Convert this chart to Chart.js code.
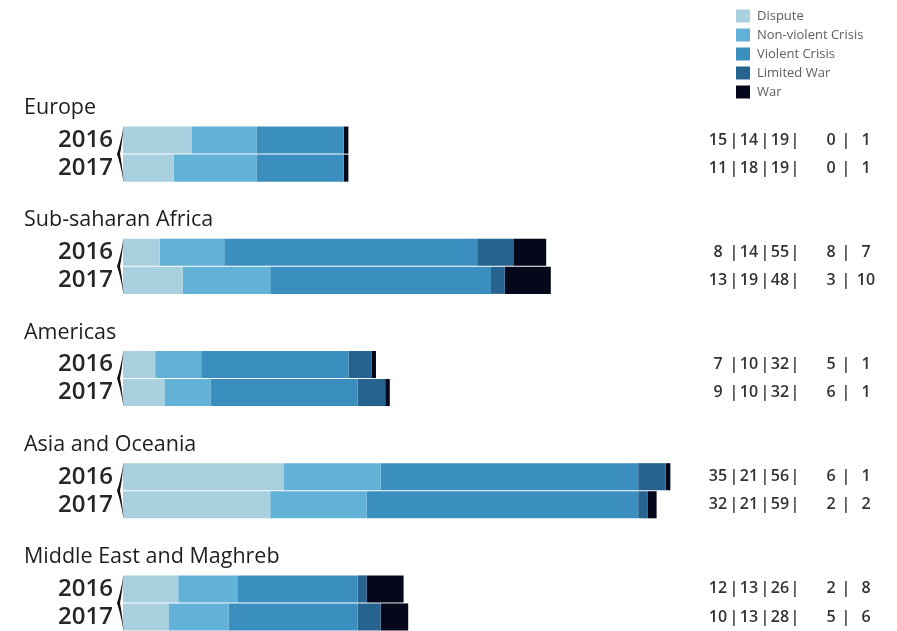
<!DOCTYPE html>
<html>
<head>
<meta charset="utf-8">
<script src="https://cdn.jsdelivr.net/npm/chart.js@4"></script>
<style>
  html, body { margin: 0; padding: 0; background: #fff; }
  #wrap { width: 897px; height: 631px; position: relative; }
</style>
</head>
<body>
<div id="wrap"><canvas id="c"></canvas></div>
<script>
// ---- data ----
const regions = ['Europe', 'Sub-saharan Africa', 'Americas', 'Asia and Oceania', 'Middle East and Maghreb'];
const years = ['2016', '2017'];
const intensityLabels = ['Dispute', 'Non-violent Crisis', 'Violent Crisis', 'Limited War', 'War'];
// order: Europe 2016, Europe 2017, Sub-saharan 2016, 2017, Americas..., Asia..., Middle East...
const dispute     = [15, 11,  8, 13,  7,  9, 35, 32, 12, 10];
const nonViolent  = [14, 18, 14, 19, 10, 10, 21, 21, 13, 13];
const violent     = [19, 19, 55, 48, 32, 32, 56, 59, 26, 28];
const limitedWar  = [ 0,  0,  8,  3,  5,  6,  6,  2,  2,  5];
const war         = [ 1,  1,  7, 10,  1,  1,  1,  2,  8,  6];
const colors = ['#a9d0de', '#62b2d8', '#3b8fbe', '#26638f', '#05071a'];

// ---- build rows: title row, 2016, 2017, spacer ----
const rowLabels = [];
const barRows = [];    // row index of each bar
regions.forEach((r, g) => {
  rowLabels.push('');
  years.forEach(y => { barRows.push(rowLabels.length); rowLabels.push(y); });
  if (g < regions.length - 1) rowLabels.push('');
});
const seriesValues = [dispute, nonViolent, violent, limitedWar, war];
function expand(vals) {
  const out = new Array(rowLabels.length).fill(null);
  barRows.forEach((ri, i) => { out[ri] = vals[i]; });
  return out;
}
const datasets = seriesValues.map((vals, k) => ({
  label: intensityLabels[k],
  data: expand(vals),
  backgroundColor: colors[k],
  borderWidth: 0,
  categoryPercentage: 1,
  barPercentage: 0.965
}));

const FONT = '"Open Sans", "DejaVu Sans", sans-serif';

const decorPlugin = {
  id: 'decor',
  afterDatasetsDraw(chart) {
    const ctx = chart.ctx;
    const yS = chart.scales.y;
    const area = chart.chartArea;
    ctx.save();
    // group titles
    ctx.font = '400 21.5px ' + FONT;
    ctx.fillStyle = '#1e1e1e';
    ctx.textAlign = 'left';
    ctx.textBaseline = 'middle';
    regions.forEach((r, g) => {
      const y = yS.getPixelForValue(barRows[g * 2]) - 32;
      ctx.fillText(r, 24, y);
    });
    // brackets
    const half = 13.5;
    regions.forEach((r, g) => {
      const top = yS.getPixelForValue(barRows[g * 2]) - half;
      const bot = yS.getPixelForValue(barRows[g * 2 + 1]) + half;
      const mid = (top + bot) / 2;
      const xr = area.left + 0.5;
      ctx.beginPath();
      ctx.moveTo(xr, top);
      ctx.quadraticCurveTo(xr - 3, mid - 10, xr - 6.5, mid);
      ctx.quadraticCurveTo(xr - 3, mid + 10, xr, bot);
      ctx.quadraticCurveTo(xr - 1.5, mid + 10, xr - 3.5, mid);
      ctx.quadraticCurveTo(xr - 1.5, mid - 10, xr, top);
      ctx.closePath();
      ctx.fillStyle = '#111';
      ctx.fill();
    });
    // right-side numbers
    const cols = [718, 749, 780, 831, 866];
    const pipes = [734, 765, 795, 846];
    ctx.font = '600 16px ' + FONT;
    ctx.fillStyle = '#333';
    ctx.textAlign = 'center';
    barRows.forEach((ri, i) => {
      const y = yS.getPixelForValue(ri);
      seriesValues.forEach((vals, k) => {
        ctx.fillText(String(vals[i]), cols[k], y);
      });
      pipes.forEach(px => ctx.fillText('|', px, y));
    });
    // legend
    ctx.font = '400 13px ' + FONT;
    ctx.textAlign = 'left';
    chart.data.datasets.forEach((ds, k) => {
      const cy = 16 + k * 19;
      ctx.fillStyle = ds.backgroundColor;
      ctx.fillRect(736, cy - 6.5, 14, 13);
      ctx.fillStyle = '#5e5e5e';
      ctx.fillText(ds.label, 757, cy);
    });
    ctx.restore();
  }
};

new Chart(document.getElementById('c'), {
  type: 'bar',
  data: { labels: rowLabels, datasets },
  options: {
    indexAxis: 'y',
    responsive: true,
    maintainAspectRatio: false,
    animation: false,
    layout: { padding: { top: 98, right: 199, bottom: 0, left: 0 } },
    plugins: { legend: { display: false }, tooltip: { enabled: false } },
    scales: {
      x: { stacked: true, display: false, min: 0, max: 125 },
      y: {
        stacked: true,
        grid: { display: false, drawTicks: false },
        border: { display: false },
        ticks: {
          autoSkip: false,
          padding: 10,
          color: '#262626',
          font: { family: FONT, size: 24, weight: '600' }
        },
        afterFit(scale) {
          scale.width = 123;
          scale.paddingTop = 0;
          scale.paddingBottom = 0;
        }
      }
    }
  },
  plugins: [decorPlugin]
});
</script>
</body>
</html>
